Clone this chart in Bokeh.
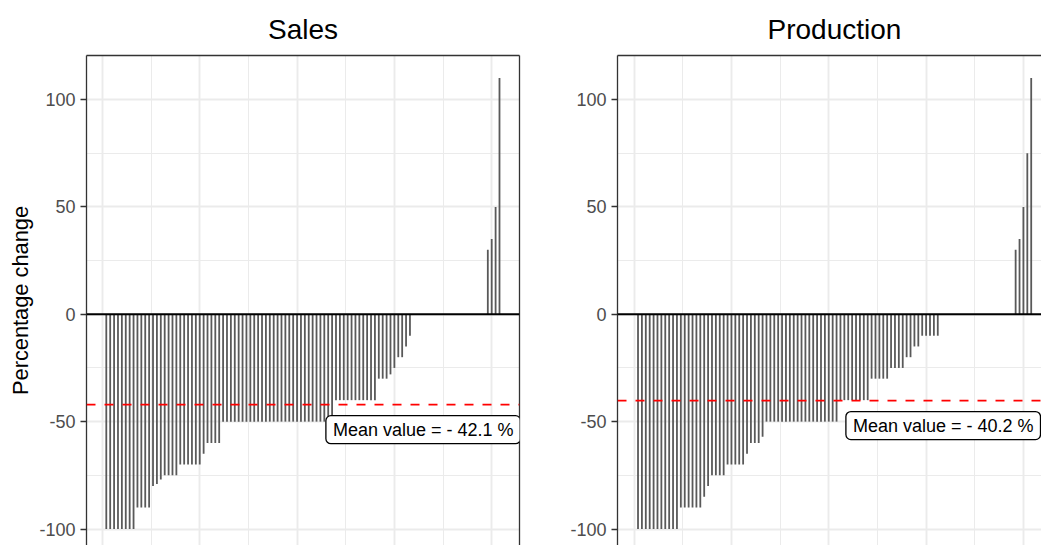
from bokeh.plotting import figure
from bokeh.models import Range1d, FixedTicker, LinearAxis, Span, Label, ColumnDataSource
from bokeh.layouts import row
from bokeh.embed import file_html
from bokeh.resources import INLINE

# ---------------- data ----------------
panel_titles = ["Sales", "Production"]
y_axis_title = "Percentage change"

sales = [-100, -100, -100, -100, -100, -100, -100, -100,
         -90, -90, -90, -90,
         -80, -79, -77,
         -75, -75, -75, -75,
         -70, -70, -70, -70, -70, -70,
         -65,
         -60, -60, -60, -60,
         -50, -50, -50, -50, -50, -50, -50, -50, -50, -50,
         -50, -50, -50, -50, -50, -50, -50, -50, -50, -50,
         -50, -50, -50, -50, -50, -50, -50, -50, -50,
         -40, -40, -40, -40, -40, -40, -40, -40, -40, -40, -40,
         -30, -30, -30, -28, -25, -20, -20, -15, -10,
         0, 0, 0, 0, 0, 0, 0, 0, 0, 0, 0, 0, 0, 0, 0, 0, 0, 0, 0,
         30, 35, 50, 110]

production = [-100, -100, -100, -100, -100, -100, -100, -100, -100, -100, -100,
              -90, -90, -90, -90, -90, -90,
              -85, -80,
              -75, -75, -75, -75,
              -70, -70, -70, -70, -70,
              -65,
              -60, -60, -60,
              -57,
              -50, -50, -50, -50, -50, -50, -50, -50, -50, -50,
              -50, -50, -50, -50, -50, -50, -50, -50, -50,
              -40, -40, -40, -40, -40, -40, -40, -40,
              -30, -30, -30, -30, -30,
              -25, -25, -25, -25,
              -20, -20, -15, -15,
              -10, -10, -10, -10, -10,
              0, 0, 0, 0, 0, 0, 0, 0, 0, 0, 0, 0, 0, 0, 0, 0, 0, 0, 0,
              30, 35, 50, 75, 110]

mean_values = [-42.1, -40.2]
mean_labels = ["Mean value = - 42.1 %", "Mean value = - 40.2 %"]

y_ticks = [-100, -50, 0, 50, 100]
y_tick_labels = ["-100", "-50", "0", "50", "100"]
y_minor_ticks = [-75, -25, 25, 75]
x_grid_major = [0, 25, 50, 75, 100]
x_grid_minor = [12.5, 37.5, 62.5, 87.5]

# ---------------- style / layout ----------------
FONT = "Liberation Sans"
H = 545
TOP = 55
KY = 2.1475          # px per y unit
ZERO_Y = 313.75      # canvas y of value 0
KX = 3.893           # px per x unit
GRID = "#ebebeb"
BORDER = "#333333"


def make_panel(values, title, mean, mean_text, width, left, right, x_start,
               y_label=None, right_border=True, title_align="center",
               title_offset=0, label_dx=0):
    frame_w = width - left - right
    x_end = x_start + frame_w / KX
    y_end = (ZERO_Y - TOP) / KY
    y_start = -(H - ZERO_Y) / KY

    p = figure(width=width, height=H,
               x_range=Range1d(x_start, x_end), y_range=Range1d(y_start, y_end),
               x_axis_location="above", y_axis_location="left",
               output_backend="svg", toolbar_location=None,
               min_border_left=left, min_border_right=right,
               min_border_top=TOP, min_border_bottom=0,
               title=title)
    p.outline_line_color = None
    p.background_fill_color = "white"
    p.border_fill_color = "white"

    p.title.text_font = FONT
    p.title.text_font_size = "28px"
    p.title.text_font_style = "normal"
    p.title.text_color = "black"
    p.title.align = title_align
    p.title.standoff = 21
    p.title.offset = title_offset

    # top border (axis with no ticks)
    p.xaxis.ticker = FixedTicker(ticks=[])
    p.xaxis.axis_line_color = BORDER
    p.xaxis.axis_line_width = 1.3
    p.xaxis.major_tick_line_color = None
    p.xaxis.minor_tick_line_color = None
    p.xaxis.major_label_standoff = 0

    p.xgrid.ticker = FixedTicker(ticks=x_grid_major, minor_ticks=x_grid_minor)
    p.xgrid.grid_line_color = GRID
    p.xgrid.grid_line_width = 1.9
    p.xgrid.minor_grid_line_color = GRID
    p.xgrid.minor_grid_line_width = 1.0

    yt = FixedTicker(ticks=y_ticks, minor_ticks=y_minor_ticks)
    p.yaxis.ticker = yt
    p.ygrid.ticker = yt
    p.ygrid.grid_line_color = GRID
    p.ygrid.grid_line_width = 1.9
    p.ygrid.minor_grid_line_color = GRID
    p.ygrid.minor_grid_line_width = 1.0

    p.yaxis.major_label_overrides = {t: s for t, s in zip(y_ticks, y_tick_labels)}
    p.yaxis.axis_line_color = BORDER
    p.yaxis.axis_line_width = 1.3
    p.yaxis.major_tick_line_color = BORDER
    p.yaxis.major_tick_line_width = 1.3
    p.yaxis.major_tick_out = 6
    p.yaxis.major_tick_in = 0
    p.yaxis.minor_tick_line_color = None
    p.yaxis.major_label_standoff = 5
    p.yaxis.major_label_text_font = FONT
    p.yaxis.major_label_text_font_size = "18px"
    p.yaxis.major_label_text_color = "#4d4d4d"
    if y_label:
        p.yaxis.axis_label = y_label
        p.yaxis.axis_label_text_font = FONT
        p.yaxis.axis_label_text_font_size = "21.8px"
        p.yaxis.axis_label_text_font_style = "normal"
        p.yaxis.axis_label_text_color = "black"
        p.yaxis.axis_label_standoff = 3

    if right_border:
        rax = LinearAxis(ticker=FixedTicker(ticks=[]), axis_line_color=BORDER,
                         axis_line_width=1.3, major_tick_line_color=None,
                         minor_tick_line_color=None, major_label_standoff=0)
        p.add_layout(rax, "right")

    xs = list(range(1, len(values) + 1))
    src = ColumnDataSource(dict(x=xs, y0=[0] * len(values), y=values))
    p.segment(x0="x", y0="y0", x1="x", y1="y", source=src,
              line_color="#595959", line_width=1.8, line_cap="butt")

    p.add_layout(Span(location=0, dimension="width", line_color="black", line_width=2))
    p.add_layout(Span(location=mean, dimension="width", line_color="#ff0000",
                      line_width=1.7, line_dash="9 9"))

    p.add_layout(Label(x=x_end, y=mean, x_offset=label_dx, y_offset=-25,
                       text=mean_text, text_align="right", text_baseline="middle",
                       text_font=FONT, text_font_size="18px", text_color="black",
                       background_fill_color="white", border_line_color="black",
                       border_line_width=1.3,
                       padding=dict(left=7, right=7, top=4, bottom=4),
                       border_radius=5))
    return p


p1 = make_panel(sales, panel_titles[0], mean_values[0], mean_labels[0],
                width=530, left=86, right=11, x_start=-4.086,
                y_label=y_axis_title, right_border=True, label_dx=1)
p2 = make_panel(production, panel_titles[1], mean_values[1], mean_labels[1],
                width=511, left=87, right=0, x_start=-4.27,
                y_label=None, right_border=False, title_align="left",
                title_offset=150, label_dx=-1)

layout = row(p1, p2)
open("out.html", "w").write(file_html(layout, INLINE))
